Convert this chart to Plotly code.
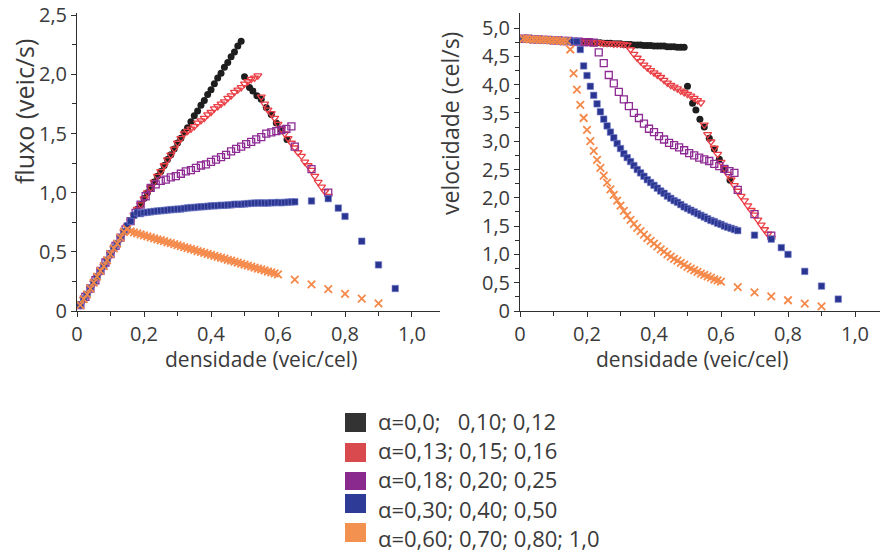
import plotly.graph_objects as go

# ---------------------------------------------------------------- data
# density (veic/cel), flux (veic/s) and velocity (cel/s) for each alpha group

black_density = [0.01, 0.02, 0.03, 0.04, 0.05, 0.06, 0.07, 0.08, 0.09, 0.10,
                 0.11, 0.12, 0.13, 0.14, 0.15, 0.16, 0.17, 0.18, 0.19, 0.20,
                 0.21, 0.22, 0.23, 0.24, 0.25, 0.26, 0.27, 0.28, 0.29, 0.30,
                 0.31, 0.32, 0.33, 0.34, 0.35, 0.36, 0.37, 0.38, 0.39, 0.40,
                 0.41, 0.42, 0.43, 0.44, 0.45, 0.46, 0.47, 0.48, 0.49,
                 0.50, 0.515, 0.525, 0.537, 0.55, 0.565, 0.58, 0.595, 0.61, 0.627]
black_flux = [0.05, 0.10, 0.14, 0.19, 0.24, 0.29, 0.34, 0.38, 0.43, 0.48,
              0.53, 0.57, 0.62, 0.67, 0.72, 0.76, 0.81, 0.86, 0.90, 0.95,
              1.00, 1.04, 1.09, 1.14, 1.18, 1.23, 1.28, 1.32, 1.37, 1.42,
              1.46, 1.51, 1.55, 1.60, 1.65, 1.69, 1.74, 1.78, 1.83, 1.87,
              1.92, 1.97, 2.01, 2.06, 2.10, 2.15, 2.19, 2.24, 2.28,
              1.98, 1.89, 1.86, 1.82, 1.79, 1.72, 1.66, 1.59, 1.53, 1.45]
black_velocity = [4.81, 4.81, 4.80, 4.80, 4.80, 4.79, 4.79, 4.79, 4.78, 4.78,
                  4.78, 4.77, 4.77, 4.77, 4.77, 4.76, 4.76, 4.76, 4.75, 4.75,
                  4.75, 4.74, 4.74, 4.74, 4.73, 4.73, 4.73, 4.72, 4.72, 4.72,
                  4.71, 4.71, 4.71, 4.70, 4.70, 4.70, 4.69, 4.69, 4.69, 4.68,
                  4.68, 4.68, 4.68, 4.67, 4.67, 4.67, 4.66, 4.66, 4.66,
                  3.97, 3.67, 3.55, 3.39, 3.25, 3.05, 2.86, 2.68, 2.50, 2.31]

red_density = [0.01, 0.02, 0.03, 0.04, 0.05, 0.06, 0.07, 0.08, 0.09, 0.10,
               0.11, 0.12, 0.13, 0.14, 0.15, 0.16, 0.17, 0.18, 0.19, 0.20,
               0.21, 0.22, 0.23, 0.24, 0.25, 0.26, 0.27, 0.28, 0.29, 0.30,
               0.31, 0.32, 0.33, 0.34, 0.35, 0.36, 0.37, 0.38, 0.39, 0.40,
               0.41, 0.42, 0.43, 0.44, 0.45, 0.46, 0.47, 0.48, 0.49, 0.50,
               0.51, 0.52, 0.53, 0.54,
               0.55, 0.56, 0.57, 0.58, 0.59, 0.60, 0.61, 0.62, 0.63, 0.64,
               0.65, 0.66, 0.67, 0.68, 0.69, 0.70, 0.71, 0.72, 0.73, 0.74, 0.75]
red_flux = [0.05, 0.10, 0.14, 0.19, 0.24, 0.29, 0.34, 0.38, 0.43, 0.48,
            0.53, 0.57, 0.62, 0.67, 0.72, 0.76, 0.81, 0.86, 0.90, 0.95,
            1.00, 1.04, 1.09, 1.14, 1.18, 1.23, 1.28, 1.32, 1.37, 1.42,
            1.46, 1.50, 1.52, 1.54, 1.56, 1.59, 1.61, 1.63, 1.66, 1.68,
            1.71, 1.73, 1.75, 1.77, 1.80, 1.82, 1.85, 1.87, 1.89, 1.92,
            1.94, 1.96, 1.97, 1.99,
            1.81, 1.75, 1.70, 1.67, 1.63, 1.58, 1.54, 1.50, 1.46, 1.42,
            1.38, 1.34, 1.31, 1.26, 1.23, 1.19, 1.14, 1.09, 1.05, 1.01, 0.97]
red_velocity = [4.81, 4.81, 4.80, 4.80, 4.80, 4.79, 4.79, 4.79, 4.78, 4.78,
                4.78, 4.77, 4.77, 4.77, 4.77, 4.76, 4.76, 4.76, 4.75, 4.75,
                4.75, 4.74, 4.74, 4.74, 4.73, 4.73, 4.73, 4.72, 4.72, 4.72,
                4.71, 4.70, 4.62, 4.54, 4.47, 4.41, 4.35, 4.30, 4.25, 4.21,
                4.17, 4.13, 4.08, 4.03, 3.99, 3.96, 3.93, 3.89, 3.86, 3.83,
                3.80, 3.76, 3.72, 3.68,
                3.29, 3.12, 2.99, 2.88, 2.77, 2.63, 2.52, 2.42, 2.32, 2.22,
                2.12, 2.03, 1.95, 1.86, 1.78, 1.70, 1.61, 1.52, 1.44, 1.36, 1.29]

purple_density = [0.010, 0.025, 0.040, 0.055, 0.070, 0.085, 0.100, 0.115, 0.130, 0.145,
                  0.160, 0.175, 0.190, 0.205, 0.220,
                  0.235, 0.250, 0.265, 0.280, 0.295, 0.310, 0.325, 0.340, 0.355, 0.370,
                  0.385, 0.400, 0.415, 0.430, 0.445, 0.460, 0.475, 0.490, 0.505, 0.520,
                  0.535, 0.550, 0.565, 0.580, 0.595, 0.610, 0.625, 0.640,
                  0.65, 0.70, 0.75]
purple_flux = [0.05, 0.12, 0.19, 0.26, 0.34, 0.41, 0.48, 0.55, 0.62, 0.69,
               0.76, 0.83, 0.90, 0.97, 1.04,
               1.07, 1.10, 1.11, 1.13, 1.14, 1.16, 1.18, 1.19, 1.21, 1.23,
               1.24, 1.26, 1.28, 1.30, 1.32, 1.35, 1.37, 1.39, 1.41, 1.43,
               1.45, 1.47, 1.50, 1.51, 1.52, 1.53, 1.54, 1.56,
               1.39, 1.20, 1.00]
purple_velocity = [4.81, 4.81, 4.80, 4.80, 4.79, 4.79, 4.78, 4.78, 4.77, 4.77,
                   4.76, 4.76, 4.75, 4.75, 4.74,
                   4.57, 4.38, 4.17, 4.02, 3.87, 3.74, 3.62, 3.50, 3.41, 3.31,
                   3.22, 3.16, 3.09, 3.03, 2.97, 2.93, 2.89, 2.84, 2.79, 2.75,
                   2.71, 2.68, 2.65, 2.60, 2.56, 2.51, 2.47, 2.44,
                   2.14, 1.71, 1.33]

blue_density = [0.01, 0.02, 0.03, 0.04, 0.05, 0.06, 0.07, 0.08, 0.09, 0.10,
                0.11, 0.12, 0.13, 0.14, 0.15, 0.16, 0.17, 0.18, 0.19, 0.20,
                0.21, 0.22, 0.23, 0.24, 0.25, 0.26, 0.27, 0.28, 0.29, 0.30,
                0.31, 0.32, 0.33, 0.34, 0.35, 0.36, 0.37, 0.38, 0.39, 0.40,
                0.41, 0.42, 0.43, 0.44, 0.45, 0.46, 0.47, 0.48, 0.49, 0.50,
                0.51, 0.52, 0.53, 0.54, 0.55, 0.56, 0.57, 0.58, 0.59, 0.60,
                0.61, 0.62, 0.63, 0.64, 0.65,
                0.70, 0.75, 0.78, 0.80, 0.85, 0.90, 0.95]
blue_flux = [0.05, 0.10, 0.14, 0.19, 0.24, 0.29, 0.34, 0.38, 0.43, 0.48,
             0.53, 0.57, 0.62, 0.67, 0.72, 0.76, 0.81, 0.832, 0.823, 0.832,
             0.834, 0.838, 0.842, 0.845, 0.848, 0.850, 0.853, 0.857, 0.858, 0.861,
             0.862, 0.867, 0.871, 0.874, 0.875, 0.878, 0.881, 0.882, 0.885, 0.888,
             0.890, 0.890, 0.894, 0.893, 0.896, 0.897, 0.902, 0.902, 0.902, 0.905,
             0.908, 0.910, 0.912, 0.913, 0.913, 0.913, 0.912, 0.916, 0.915, 0.918,
             0.915, 0.918, 0.920, 0.922, 0.923,
             0.93, 0.95, 0.87, 0.80, 0.59, 0.39, 0.19]
blue_velocity = [4.81, 4.81, 4.80, 4.80, 4.80, 4.79, 4.79, 4.79, 4.78, 4.78,
                 4.78, 4.77, 4.77, 4.77, 4.77, 4.76, 4.76, 4.62, 4.33, 4.16,
                 3.97, 3.81, 3.66, 3.52, 3.39, 3.27, 3.16, 3.06, 2.96, 2.87,
                 2.78, 2.71, 2.64, 2.57, 2.50, 2.44, 2.38, 2.32, 2.27, 2.22,
                 2.17, 2.12, 2.08, 2.03, 1.99, 1.95, 1.92, 1.88, 1.84, 1.81,
                 1.78, 1.75, 1.72, 1.69, 1.66, 1.63, 1.60, 1.58, 1.55, 1.53,
                 1.50, 1.48, 1.46, 1.44, 1.42,
                 1.34, 1.27, 1.12, 1.00, 0.70, 0.44, 0.21]

orange_density = [0.01, 0.02, 0.03, 0.04, 0.05, 0.06, 0.07, 0.08, 0.09, 0.10,
                  0.11, 0.12, 0.13, 0.14, 0.15, 0.16, 0.17, 0.18, 0.19, 0.20,
                  0.21, 0.22, 0.23, 0.24, 0.25, 0.26, 0.27, 0.28, 0.29, 0.30,
                  0.31, 0.32, 0.33, 0.34, 0.35, 0.36, 0.37, 0.38, 0.39, 0.40,
                  0.41, 0.42, 0.43, 0.44, 0.45, 0.46, 0.47, 0.48, 0.49, 0.50,
                  0.51, 0.52, 0.53, 0.54, 0.55, 0.56, 0.57, 0.58, 0.59, 0.60,
                  0.65, 0.70, 0.75, 0.80, 0.85, 0.90]
orange_flux = [0.05, 0.10, 0.14, 0.19, 0.24, 0.29, 0.34, 0.38, 0.43, 0.48,
               0.53, 0.57, 0.62, 0.67, 0.693, 0.672, 0.664, 0.656, 0.647, 0.639,
               0.631, 0.623, 0.614, 0.606, 0.598, 0.590, 0.581, 0.573, 0.565, 0.557,
               0.549, 0.540, 0.532, 0.524, 0.516, 0.507, 0.499, 0.491, 0.483, 0.474,
               0.466, 0.458, 0.450, 0.442, 0.433, 0.425, 0.417, 0.409, 0.400, 0.392,
               0.384, 0.376, 0.367, 0.359, 0.351, 0.343, 0.334, 0.326, 0.318, 0.310,
               0.265, 0.225, 0.185, 0.145, 0.105, 0.065]
orange_velocity = [4.81, 4.81, 4.80, 4.80, 4.80, 4.79, 4.79, 4.79, 4.78, 4.78,
                   4.78, 4.77, 4.77, 4.77, 4.62, 4.20, 3.91, 3.64, 3.41, 3.20,
                   3.00, 2.83, 2.67, 2.53, 2.39, 2.27, 2.15, 2.05, 1.95, 1.86,
                   1.77, 1.69, 1.61, 1.54, 1.47, 1.41, 1.35, 1.29, 1.24, 1.19,
                   1.14, 1.09, 1.05, 1.00, 0.96, 0.92, 0.89, 0.85, 0.82, 0.78,
                   0.75, 0.72, 0.69, 0.66, 0.64, 0.61, 0.59, 0.56, 0.54, 0.52,
                   0.42, 0.33, 0.26, 0.19, 0.13, 0.08]

legend_labels = [
    "α=0,0;\u00a0\u00a0\u00a00,10; 0,12",
    "α=0,13; 0,15; 0,16",
    "α=0,18; 0,20; 0,25",
    "α=0,30; 0,40; 0,50",
    "α=0,60; 0,70; 0,80; 1,0",
]

x_ticks = [0, 0.2, 0.4, 0.6, 0.8, 1.0]
x_ticktext = ["0", "0,2", "0,4", "0,6", "0,8", "1,0"]
x_minor = [0.1, 0.3, 0.5, 0.7, 0.9]
flux_ticks = [0, 0.5, 1.0, 1.5, 2.0, 2.5]
flux_ticktext = ["0", "0,5", "1,0", "1,5", "2,0", "2,5"]
flux_minor = [0.25, 0.75, 1.25, 1.75, 2.25]
vel_ticks = [0, 0.5, 1.0, 1.5, 2.0, 2.5, 3.0, 3.5, 4.0, 4.5, 5.0]
vel_ticktext = ["0", "0,5", "1,0", "1,5", "2,0", "2,5", "3,0", "3,5", "4,0", "4,5", "5,0"]
vel_minor = [0.25, 0.75, 1.25, 1.75, 2.25, 2.75, 3.25, 3.75, 4.25, 4.75]

# ---------------------------------------------------------------- styling
W, H = 882, 553
FONT = "Open Sans, Lato, sans-serif"
TEXT = "#3a3a3a"
AXIS = "#2f2f2f"

legend_colors = ["#333333", "#d94a4e", "#8a2a8e", "#2e3b97", "#f29150"]

series = [
    dict(d=black_density, q=black_flux, v=black_velocity,
         marker=dict(symbol="circle", size=7, color="#1e1e1e")),
    dict(d=red_density, q=red_flux, v=red_velocity,
         marker=dict(symbol="triangle-down-open", size=7, color="#ea3f46",
                     line=dict(color="#ea3f46", width=1.3))),
    dict(d=purple_density, q=purple_flux, v=purple_velocity,
         marker=dict(symbol="square-open", size=7, color="#8d2b93",
                     line=dict(color="#8d2b93", width=1.3))),
    dict(d=blue_density, q=blue_flux, v=blue_velocity,
         marker=dict(symbol="square", size=6.5, color="#2a3591",
                     line=dict(color="rgba(120,130,205,0.6)", width=1))),
    dict(d=orange_density, q=orange_flux, v=orange_velocity,
         marker=dict(symbol="x-thin-open", size=7.5, color="#f5894a",
                     line=dict(color="#f5894a", width=1.8))),
]


def px_x(p):
    return p / W


def px_y(p):
    return 1 - p / H


fig = go.Figure()
for s in series:
    fig.add_trace(go.Scatter(x=s["d"], y=s["q"], mode="markers", marker=s["marker"],
                             xaxis="x", yaxis="y", showlegend=False, hoverinfo="skip"))
    fig.add_trace(go.Scatter(x=s["d"], y=s["v"], mode="markers", marker=s["marker"],
                             xaxis="x2", yaxis="y2", showlegend=False, hoverinfo="skip"))

axis_common = dict(
    showline=True, linecolor=AXIS, linewidth=1, showgrid=False, zeroline=False,
    ticks="outside", ticklen=5, tickwidth=1, tickcolor=AXIS,
    tickfont=dict(family=FONT, size=20, color=TEXT), tickmode="array",
    automargin=False, fixedrange=True,
)

y_dom = [px_y(311), px_y(13)]

fig.update_layout(
    width=W, height=H,
    margin=dict(l=0, r=0, t=0, b=0, autoexpand=False),
    paper_bgcolor="white", plot_bgcolor="white",
    font=dict(family=FONT, color=TEXT),
    xaxis=dict(axis_common, domain=[px_x(77), px_x(440)], range=[0, 1.0836],
               tickvals=x_ticks, ticktext=x_ticktext, anchor="y",
               minor=dict(tickvals=x_minor, ticks="outside", ticklen=4, tickcolor=AXIS)),
    yaxis=dict(axis_common, domain=y_dom, range=[0, 2.519],
               tickvals=flux_ticks, ticktext=flux_ticktext, anchor="x",
               minor=dict(tickvals=flux_minor, ticks="outside", ticklen=4, tickcolor=AXIS)),
    xaxis2=dict(axis_common, domain=[px_x(520), px_x(880)], range=[0, 1.0746],
                tickvals=x_ticks, ticktext=x_ticktext, anchor="y2",
                minor=dict(tickvals=x_minor, ticks="outside", ticklen=4, tickcolor=AXIS)),
    yaxis2=dict(axis_common, domain=y_dom, range=[0, 5.265],
                tickvals=vel_ticks, ticktext=vel_ticktext, anchor="x2",
                minor=dict(tickvals=vel_minor, ticks="outside", ticklen=4, tickcolor=AXIS)),
)

# axis titles: (text, x px, y px, angle, size)
titles = [
    ("densidade (veic/cel)", 261, 359, 0, 21),
    ("densidade (veic/cel)", 692, 359, 0, 21),
    ("fluxo (veic/s)", 24, 112, -90, 25),
    ("velocidade (cel/s)", 450, 124, -90, 23),
]
for text, x, y, ang, size in titles:
    fig.add_annotation(text=text, x=px_x(x), y=px_y(y), xref="paper", yref="paper",
                       showarrow=False, textangle=ang, xanchor="center", yanchor="middle",
                       borderpad=0, font=dict(family=FONT, size=size, color=TEXT))

# legend: colour swatches and labels
swatch_rows = [(413, 432), (443, 462), (472, 490), (494, 513), (523, 542)]
text_rows = [421, 450, 479, 509, 538]
for label, color, (top, bottom), ty in zip(legend_labels, legend_colors, swatch_rows, text_rows):
    fig.add_shape(type="rect", xref="paper", yref="paper",
                  x0=px_x(345), x1=px_x(366), y0=px_y(bottom), y1=px_y(top),
                  fillcolor=color, line=dict(width=0))
    fig.add_annotation(text=label, x=px_x(377), y=px_y(ty), xref="paper", yref="paper",
                       showarrow=False, xanchor="left", yanchor="middle", borderpad=0,
                       font=dict(family=FONT, size=22, color=TEXT))

fig.write_html("out.html")
